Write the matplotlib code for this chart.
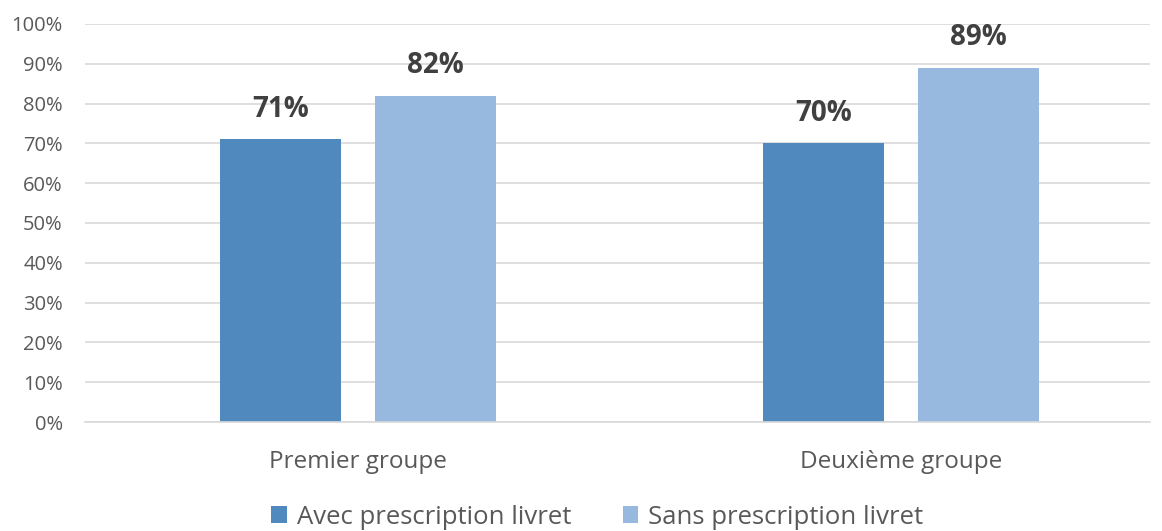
import matplotlib.pyplot as plt
import numpy as np
from matplotlib.ticker import PercentFormatter

plt.rcParams['font.family'] = ['Open Sans', 'DejaVu Sans']

# Share of pupils per group, in percent
groups = ['Premier groupe', 'Deuxième groupe']
avec = [71, 70]
sans = [82, 89]
series_names = ['Avec prescription livret', 'Sans prescription livret']

DARK = '#4f89be'
LIGHT = '#97b9e0'
TEXT = '#595959'
GRID = '#d9d9d9'

fig = plt.figure(figsize=(11.62, 5.31), dpi=100)
ax = fig.add_axes([85 / 1162, 109 / 531, 1065 / 1162, 398 / 531])

x = np.arange(len(groups))
width = 0.223
offset = 0.1425
b1 = ax.bar(x - offset, avec, width, color=DARK, label=series_names[0], zorder=2)
b2 = ax.bar(x + offset, sans, width, color=LIGHT, label=series_names[1], zorder=2)

for bars, vals in ((b1, avec), (b2, sans)):
    for rect, v in zip(bars, vals):
        ax.text(rect.get_x() + rect.get_width() / 2, v + 7.5, f'{v}%',
                ha='center', va='center', fontsize=20, fontweight='bold',
                color='#404040')

ax.set_xlim(-0.503, 1.459)
ax.set_ylim(0, 100)
ax.set_yticks(np.arange(0, 101, 10))
ax.yaxis.set_major_formatter(PercentFormatter(decimals=0))
ax.set_xticks(x)
ax.set_xticklabels(groups, fontsize=17.5, color=TEXT)
ax.tick_params(axis='x', length=0, pad=20)
ax.tick_params(axis='y', length=0, labelsize=14.5, labelcolor=TEXT, pad=16)

ax.grid(axis='y', color=GRID, linewidth=1.2, zorder=0)
for side in ('top', 'right', 'left'):
    ax.spines[side].set_visible(False)
ax.spines['bottom'].set_color(GRID)
ax.spines['bottom'].set_linewidth(1.2)

fig.legend(handles=[b1, b2], loc='center', bbox_to_anchor=(0.514, 1 - 517 / 531),
           ncol=2, frameon=False, fontsize=18.5, handlelength=0.6, handleheight=0.6,
           handletextpad=0.4, columnspacing=2.0, labelcolor=TEXT,
           borderaxespad=0, borderpad=0)

fig.savefig('out.png', dpi=100)
